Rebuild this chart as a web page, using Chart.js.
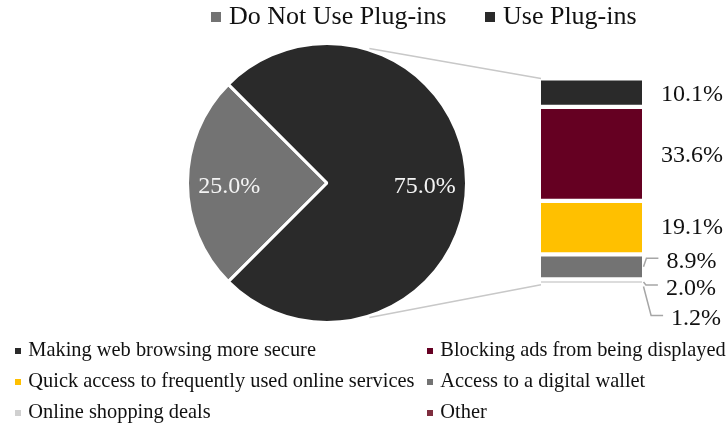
<!DOCTYPE html>
<html>
<head>
<meta charset="utf-8">
<script src="https://cdn.jsdelivr.net/npm/chart.js@4.4.1/dist/chart.umd.min.js"></script>
<style>
  html, body { margin: 0; padding: 0; background: #fff; }
  #stage {
    position: relative; width: 727px; height: 427px; overflow: hidden;
    font-family: "Liberation Serif", "Times New Roman", serif; color: #111;
  }
  #stage canvas { position: absolute; left: 0; top: 0; }
  .sq { position: absolute; }
  .tx { position: absolute; white-space: nowrap; }
</style>
</head>
<body>
<div id="stage">
  <canvas id="pieCanvas" width="727" height="427"></canvas>
  <canvas id="barCanvas" width="727" height="427"></canvas>
  <div id="topLegend"></div>
  <div id="bottomLegend"></div>
</div>
<script>
// Share of users who do / do not use browser plug-ins
const pieLabels = ["Do Not Use Plug-ins", "Use Plug-ins"];
const pieValues = [25.0, 75.0];
const pieColors = ["#737373", "#2a2a2a"];

// Main reason for using plug-ins (share of all respondents)
const reasonLabels = [
  "Making web browsing more secure",
  "Blocking ads from being displayed",
  "Quick access to frequently used online services",
  "Access to a digital wallet",
  "Online shopping deals",
  "Other"
];
const reasonValues = [10.1, 33.6, 19.1, 8.9, 2.0, 1.2];
const reasonColors = ["#2a2a2a", "#650022", "#ffc000", "#737373", "#d0d0d0", "#7e2e3e"];

// vertical nudges (px) for the value labels beside the stacked bar
const labelNudge = [0, 0, -2, -7, 4.5, 30.5];

const FONT = '"Liberation Serif", "Times New Roman", serif';
const SEG_BORDER = 2.1;

// ---------- legends (HTML text) ----------
function legendItem(parent, text, color, o) {
  const sq = document.createElement('div');
  sq.className = 'sq';
  sq.style.cssText += `left:${o.sqX}px;top:${o.baseline - o.sqLift}px;width:${o.sq}px;height:${o.sq}px;background:${color};`;
  const tx = document.createElement('div');
  tx.className = 'tx';
  tx.textContent = text;
  tx.style.cssText += `left:${o.textX}px;top:${o.baseline - 0.8375 * o.size}px;font-size:${o.size}px;line-height:${o.size}px;`;
  parent.appendChild(sq);
  parent.appendChild(tx);
}

const topLegend = document.getElementById('topLegend');
const topCols = [211, 485];
pieLabels.forEach((label, i) => {
  legendItem(topLegend, label, pieColors[i], {
    sqX: topCols[i], textX: topCols[i] + 18, baseline: 25, sqLift: 12.7, sq: 10, size: 26
  });
});

const bottomLegend = document.getElementById('bottomLegend');
const bottomCols = [15, 427];
const bottomRows = [355.7, 387, 418.3];
reasonLabels.forEach((label, i) => {
  const col = i % 2, row = Math.floor(i / 2);
  legendItem(bottomLegend, label, reasonColors[i], {
    sqX: bottomCols[col], textX: bottomCols[col] + 13.3, baseline: bottomRows[row], sqLift: 8, sq: 6, size: 20.4
  });
});

// ---------- pie ----------
const pieValueLabels = {
  id: 'pieValueLabels',
  afterDatasetsDraw(chart) {
    const ctx = chart.ctx;
    const arcs = chart.getDatasetMeta(0).data;
    ctx.save();
    ctx.font = `24px ${FONT}`;
    ctx.fillStyle = '#f4f4f4';
    ctx.textAlign = 'center';
    ctx.textBaseline = 'alphabetic';
    arcs.forEach((arc, i) => {
      const p = arc.getProps(['x', 'y', 'startAngle', 'endAngle', 'outerRadius'], true);
      const mid = (p.startAngle + p.endAngle) / 2;
      const r = p.outerRadius * 0.7;
      const cx = p.x + Math.cos(mid) * r;
      const cy = p.y + Math.sin(mid) * r + 2;
      ctx.fillText(pieValues[i].toFixed(1) + '%', cx, cy + 8);
    });
    ctx.restore();
  }
};

const pieChart = new Chart(document.getElementById('pieCanvas'), {
  type: 'pie',
  data: {
    labels: pieLabels,
    datasets: [{
      data: pieValues,
      backgroundColor: pieColors,
      borderColor: '#ffffff',
      borderWidth: 3
    }]
  },
  options: {
    responsive: false,
    animation: false,
    events: [],
    rotation: 225,
    layout: { padding: { left: 186, right: 259, top: 42, bottom: 103 } },
    plugins: { legend: { display: false }, tooltip: { enabled: false } }
  },
  plugins: [pieValueLabels]
});

// ---------- stacked bar breaking down the "Use Plug-ins" slice ----------
function segBox(chart, i) {
  const el = chart.getDatasetMeta(i).data[0];
  const p = el.getProps(['x', 'y', 'base', 'width'], true);
  const top = Math.min(p.y, p.base), bottom = Math.max(p.y, p.base);
  return { left: p.x - p.width / 2, right: p.x + p.width / 2, top, bottom, mid: (top + bottom) / 2, h: bottom - top };
}

const seriesLines = {
  id: 'seriesLines',
  beforeDatasetsDraw(chart) {
    const arc = pieChart.getDatasetMeta(0).data[1];
    const p = arc.getProps(['x', 'y', 'outerRadius'], true);
    const ang = 72.5 * Math.PI / 180;
    const rr = p.outerRadius + 1.5;
    const first = segBox(chart, 0);
    // last segment that is still visible once its white borders are drawn
    let lastVisible = first;
    reasonValues.forEach((v, i) => {
      const b = segBox(chart, i);
      if (b.h - 2 * SEG_BORDER > 0.5) lastVisible = b;
    });
    const ctx = chart.ctx;
    ctx.save();
    ctx.strokeStyle = '#c8c8c8';
    ctx.lineWidth = 1.5;
    ctx.beginPath();
    ctx.moveTo(p.x + Math.cos(ang) * rr, p.y - Math.sin(ang) * rr);
    ctx.lineTo(first.left, first.top);
    ctx.moveTo(p.x + Math.cos(ang) * rr, p.y + Math.sin(ang) * rr);
    ctx.lineTo(lastVisible.left, lastVisible.bottom);
    ctx.stroke();
    ctx.restore();
  }
};

const barValueLabels = {
  id: 'barValueLabels',
  afterDatasetsDraw(chart) {
    const ctx = chart.ctx;
    const size = 24;
    ctx.save();
    ctx.font = `${size}px ${FONT}`;
    ctx.fillStyle = '#111';
    ctx.textAlign = 'left';
    ctx.textBaseline = 'alphabetic';
    ctx.strokeStyle = '#a6a6a6';
    ctx.lineWidth = 1.5;
    reasonValues.forEach((v, i) => {
      const b = segBox(chart, i);
      const dy = labelNudge[i];
      const ly = b.mid + dy;
      const text = v.toFixed(1) + '%';
      if (b.h - 2 * SEG_BORDER < size - 3) {
        // small segment: label pulled aside with a leader line
        const elbowX = b.right + 3 + Math.abs(dy) * 0.2;
        const endX = elbowX + 12;
        ctx.beginPath();
        ctx.moveTo(b.right + 1.5, b.mid);
        ctx.lineTo(elbowX, ly - 1.5);
        ctx.lineTo(endX, ly - 1.5);
        ctx.stroke();
        ctx.fillText(text, endX + 8, ly + 8);
      } else {
        ctx.fillText(text, b.right + 19, ly + 8);
      }
    });
    ctx.restore();
  }
};

const barChart = new Chart(document.getElementById('barCanvas'), {
  type: 'bar',
  data: {
    labels: ['Use Plug-ins'],
    datasets: reasonLabels.map((label, i) => ({
      label,
      data: [reasonValues[i]],
      backgroundColor: reasonColors[i],
      borderColor: '#ffffff',
      borderWidth: { top: SEG_BORDER, bottom: SEG_BORDER, left: 0, right: 0 },
      borderSkipped: false,
      inflateAmount: 0,
      barPercentage: 1,
      categoryPercentage: 1
    }))
  },
  options: {
    responsive: false,
    animation: false,
    events: [],
    layout: { padding: { left: 541, right: 85, top: 78.5, bottom: 138.5 } },
    scales: {
      x: { display: false, stacked: true },
      y: { display: false, stacked: true, reverse: true, min: 0, max: 75 }
    },
    plugins: { legend: { display: false }, tooltip: { enabled: false } }
  },
  plugins: [seriesLines, barValueLabels]
});
</script>
</body>
</html>
